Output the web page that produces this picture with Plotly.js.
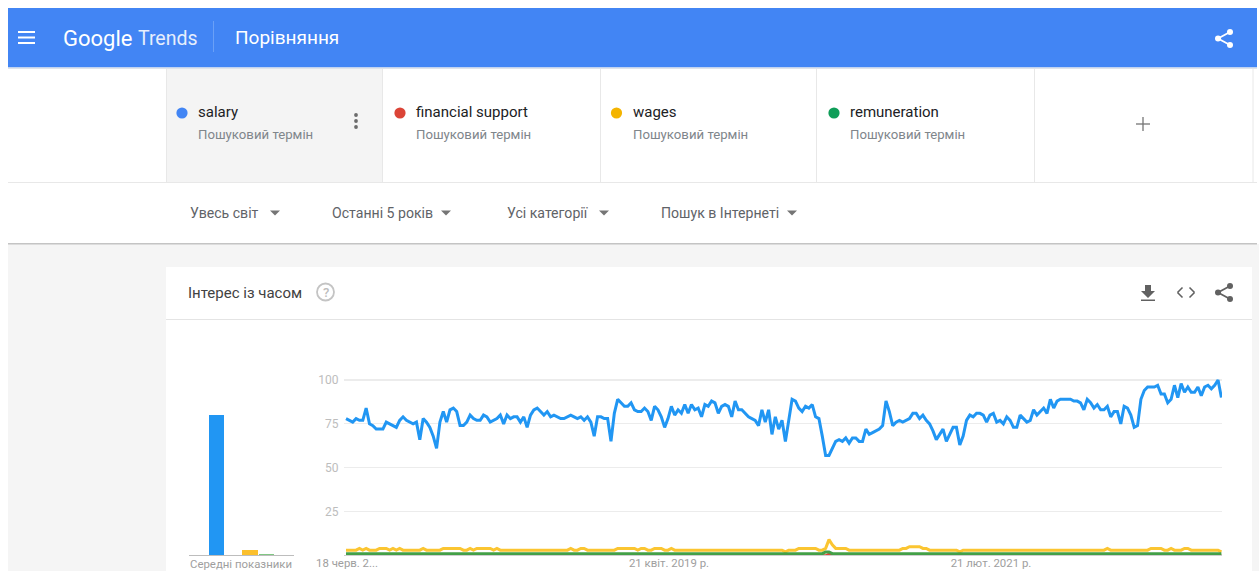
<!DOCTYPE html>
<html lang="uk">
<head>
<meta charset="utf-8">
<title>Google Trends</title>
<script src="https://cdn.plot.ly/plotly-3.0.1.min.js"></script>
<style>
  html, body { margin: 0; padding: 0; background: #fff; overflow: hidden; }
  #chart { width: 1259px; height: 571px; }
</style>
</head>
<body>
<div id="chart"></div>
<script>
// Weekly search interest, one value per week starting at firstWeek.
const firstWeek = '2017-06-18';

const salary = [
  78,77,76,78,77,77,84,75,74,72,
  72,72,76,75,74,73,77,79,77,76,
  75,76,66,78,76,73,68,61,76,82,
  76,83,84,82,74,74,76,80,78,77,
  77,80,79,76,77,78,80,75,80,78,
  79,79,76,79,73,80,83,84,82,80,
  82,79,80,79,78,78,79,80,79,78,
  79,77,79,76,68,79,79,78,78,65,
  81,89,87,85,85,87,83,82,82,84,
  82,77,85,83,79,73,78,85,80,83,
  81,86,81,86,83,84,79,86,85,88,
  87,81,85,86,85,79,88,83,83,81,
  79,78,77,74,83,76,83,69,79,72,
  77,65,77,89,88,84,82,85,84,86,
  79,78,68,57,57,61,65,66,65,67,
  64,67,67,65,65,72,69,70,71,72,
  74,88,82,74,76,77,76,77,78,81,
  81,78,80,77,75,71,66,69,72,65,
  69,73,73,63,68,77,80,79,81,81,
  80,76,80,81,76,77,75,79,77,73,
  73,80,78,76,77,83,80,82,84,81,
  89,84,88,89,89,89,89,88,88,87,
  83,89,87,84,86,83,83,85,79,82,
  82,75,85,84,80,73,74,89,94,96,
  96,96,97,92,92,87,89,97,90,98,
  93,96,93,93,96,91,96,97,95,97,
  100,90
];

const wages = [
  3,3,3,3,4,3,4,3,3,3,
  4,4,4,3,4,3,4,3,3,3,
  3,3,3,4,3,3,3,3,3,4,
  4,4,4,4,4,3,3,4,3,4,
  4,4,4,4,3,4,3,3,3,3,
  3,3,3,3,3,3,3,3,3,3,
  3,3,3,3,3,3,3,4,3,3,
  4,4,3,3,3,3,3,3,3,3,
  3,4,4,4,4,4,4,3,4,4,
  3,3,4,4,4,3,3,4,3,3,
  3,3,3,3,3,3,3,3,3,3,
  3,3,3,3,3,3,3,3,3,3,
  3,3,3,3,3,3,3,3,3,3,
  3,2,3,3,3,4,4,4,4,4,
  4,3,3,4,9,6,4,4,4,4,
  3,3,3,3,3,3,3,3,3,3,
  3,3,3,3,3,3,4,4,5,5,
  5,5,4,4,3,3,3,3,3,3,
  3,3,3,2,3,3,3,3,3,3,
  3,3,3,3,3,3,3,3,3,3,
  3,3,3,3,3,3,3,3,3,3,
  3,3,3,3,3,3,3,3,3,3,
  3,3,3,3,3,3,3,4,3,3,
  3,3,3,3,3,3,3,3,3,3,
  4,4,4,4,3,3,4,3,3,3,
  4,4,3,3,3,3,3,3,3,3,
  3,2
];

const remuneration = [
  1,1,1,1,1,1,1,1,1,1, 1,1,1,1,1,1,1,1,1,1,
  1,1,1,1,1,1,1,1,1,1, 1,1,1,1,1,1,1,1,1,1,
  1,1,1,1,1,1,1,1,1,1, 1,1,1,1,1,1,1,1,1,1,
  1,1,1,1,1,1,1,1,1,1, 1,1,1,1,1,1,1,1,1,1,
  1,1,1,1,1,1,1,1,1,1, 1,1,1,1,1,1,1,1,1,1,
  1,1,1,1,1,1,1,1,1,1, 1,1,1,1,1,1,1,1,1,1,
  1,1,1,1,1,1,1,1,1,1, 1,1,1,1,1,1,1,1,1,1,
  1,1,1,2,2,1,1,1,1,1, 1,1,1,1,1,1,1,1,1,1,
  1,1,1,1,1,1,1,1,1,1, 1,1,1,1,1,1,1,1,1,1,
  1,1,1,1,1,1,1,1,1,1, 1,1,1,1,1,1,1,1,1,1,
  1,1,1,1,1,1,1,1,1,1, 1,1,1,1,1,1,1,1,1,1,
  1,1,1,1,1,1,1,1,1,1, 1,1,1,1,1,1,1,1,1,1,
  1,1,1,1,1,1,1,1,1,1, 1,1,1,1,1,1,1,1,1,1,
  1,1
];

const financialSupport = [
  0,0,0,0,0,0,0,0,0,0, 0,0,0,0,0,0,0,0,0,0,
  0,0,0,0,0,0,0,0,0,0, 0,0,0,0,0,0,0,0,0,0,
  0,0,0,0,0,0,0,0,0,0, 0,0,0,0,0,0,0,0,0,0,
  0,0,0,0,0,0,0,0,0,0, 0,0,0,0,0,0,0,0,0,0,
  0,0,0,0,0,0,0,0,0,0, 0,0,0,0,0,0,0,0,0,0,
  0,0,0,0,0,0,0,0,0,0, 0,0,0,0,0,0,0,0,0,0,
  0,0,0,0,0,0,0,0,0,0, 0,0,0,0,0,0,0,0,0,0,
  0,0,0,0,1,0,0,0,0,0, 0,0,0,0,0,0,0,0,0,0,
  0,0,0,0,0,0,0,0,0,0, 0,0,0,0,0,0,0,0,0,0,
  0,0,0,0,0,0,0,0,0,0, 0,0,0,0,0,0,0,0,0,0,
  0,0,0,0,0,0,0,0,0,0, 0,0,0,0,0,0,0,0,0,0,
  0,0,0,0,0,0,0,0,0,0, 0,0,0,0,0,0,0,0,0,0,
  0,0,0,0,0,0,0,0,0,0, 0,0,0,0,0,0,0,0,0,0,
  0,0
];

// Averages shown in the small bar panel.
const termNames = ['salary', 'financial support', 'wages', 'remuneration'];
const averages = [80, 0, 3, 1];
const barColors = ['#2196f3', '#db4437', '#fbc02d', '#81c784'];

const yTicks = [25, 50, 75, 100];
const xTickDates = ['2017-06-18', '2019-04-21', '2021-02-21'];
const xTickLabels = ['18 черв. 2...', '21 квіт. 2019 р.', '21 лют. 2021 р.'];

const W = 1259, H = 571;
const FONT = 'Roboto, sans-serif';
const px = x => x / W;
const py = y => 1 - y / H;

// Week-ending dates for the x axis.
const weekDates = salary.map((_, i) => {
  const d = new Date(firstWeek + 'T00:00:00Z');
  d.setUTCDate(d.getUTCDate() + i * 7);
  return d.toISOString().slice(0, 10);
});

const lineTrace = (name, y, color, width) => ({
  type: 'scatter', mode: 'lines', name, x: weekDates, y,
  line: { color, width, shape: 'linear' }, cliponaxis: false,
  hoverinfo: 'skip', xaxis: 'x', yaxis: 'y', showlegend: false
});

const traces = [
  lineTrace('salary', salary, '#2196f3', 3),
  lineTrace('financial support', financialSupport, '#db4437', 2.2),
  lineTrace('wages', wages, '#fbc531', 3),
  lineTrace('remuneration', remuneration, '#43a047', 3),
  {
    type: 'bar', x: [0, 1, 2, 3], y: averages, name: 'average',
    text: termNames, textposition: 'none',
    marker: { color: barColors, line: { width: 0 } }, width: 0.92,
    hoverinfo: 'skip', xaxis: 'x2', yaxis: 'y2', showlegend: false
  }
];

// Page furniture: helpers work in page pixels.
const shapes = [];
const rect = (x0, y0, x1, y1, fill) => shapes.push({
  type: 'rect', xref: 'paper', yref: 'paper', layer: 'below',
  x0: px(x0), x1: px(x1), y0: py(y0), y1: py(y1),
  fillcolor: fill, line: { width: 0 }
});
const seg = (x0, y0, x1, y1, color, width, layer) => shapes.push({
  type: 'line', xref: 'paper', yref: 'paper', layer: layer || 'below',
  x0: px(x0), x1: px(x1), y0: py(y0), y1: py(y1),
  line: { color, width }
});
const dot = (cx, cy, r, fill) => shapes.push({
  type: 'circle', xref: 'paper', yref: 'paper', layer: 'below',
  x0: px(cx - r), x1: px(cx + r), y0: py(cy - r), y1: py(cy + r),
  fillcolor: fill, line: { width: 0 }
});
const ring = (cx, cy, r, color, width) => shapes.push({
  type: 'circle', xref: 'paper', yref: 'paper', layer: 'below',
  x0: px(cx - r), x1: px(cx + r), y0: py(cy - r), y1: py(cy + r),
  fillcolor: 'rgba(0,0,0,0)', line: { color, width }
});
const poly = (pts, fill) => shapes.push({
  type: 'path', xref: 'paper', yref: 'paper', layer: 'below',
  path: 'M' + pts.map(p => px(p[0]) + ',' + py(p[1])).join('L') + 'Z',
  fillcolor: fill, line: { width: 0 }
});
const shareIcon = (cx, cy, color) => {
  seg(cx + 6, cy - 6.5, cx - 6, cy, color, 1.8);
  seg(cx - 6, cy, cx + 6, cy + 6.5, color, 1.8);
  dot(cx + 6, cy - 6.5, 3, color);
  dot(cx - 6, cy, 3, color);
  dot(cx + 6, cy + 6.5, 3, color);
};

const notes = [];
const label = (x, y, text, size, color, opts) => notes.push(Object.assign({
  xref: 'paper', yref: 'paper', x: px(x), y: py(y), text,
  showarrow: false, xanchor: 'left', yanchor: 'middle',
  borderpad: 0, font: { family: FONT, size, color }
}, opts || {}));

// Base panels
rect(8, 244, 1259, 571, '#f5f5f5');
rect(8, 243, 1257, 244.5, '#c4c4c4');
rect(166, 267, 1252, 571, '#ffffff');
seg(166, 319.5, 1252, 319.5, '#e4e4e4', 1);

// Header bar
rect(8, 8, 1257, 67.5, '#4285f4');
rect(8, 67.5, 1257, 69, '#dfe3ea');
[32, 37.5, 43].forEach(y => rect(18, y - 1, 35, y + 1, '#ffffff'));
seg(213.5, 21, 213.5, 52, '#6aa0f7', 1);
label(62, 38.5, 'Google', 22, '#ffffff');
label(136.5, 38.5, 'Trends', 19.5, '#e6eefc');
label(234, 37, 'Порівняння', 19, '#ffffff');
shareIcon(1224, 38.5, '#ffffff');

// Search term row
rect(166, 69, 382, 182, '#f4f4f4');
[166, 382, 600, 816, 1034, 1252.5].forEach(x => seg(x + 0.5, 69, x + 0.5, 182, '#e8e8e8', 1));
seg(8, 182.5, 1257, 182.5, '#e8e8e8', 1);
const cellX = [197, 415, 631.5, 849];
const dotColors = ['#4285f4', '#db4437', '#f4b400', '#0f9d58'];
termNames.forEach((name, i) => {
  dot(cellX[i] - 15, 113, 5.6, dotColors[i]);
  label(cellX[i], 112.5, name, 15, '#202124');
  label(cellX[i], 134, 'Пошуковий термін', 13.2, '#80868b');
});
[115, 121, 127].forEach(y => dot(356, y, 1.9, '#6b6b6b'));
seg(1143, 117, 1143, 131, '#757575', 1.3);
seg(1136, 124, 1150, 124, '#757575', 1.3);

// Filter row
[
  [189, 'Увесь світ', 275],
  [331, 'Останні 5 років', 446],
  [506, 'Усі категорії', 604],
  [660, 'Пошук в Інтернеті', 792]
].forEach(f => {
  label(f[0], 213, f[1], 14.1, '#5f6368');
  poly([[f[2] - 5, 210.5], [f[2] + 5, 210.5], [f[2], 215.5]], '#757575');
});

// Card heading and its icons
label(187, 292.5, 'Інтерес із часом', 15, '#424242');
ring(325.5, 292, 8.5, '#c4c4c4', 1.8);
label(325.5, 292.5, '?', 13, '#bdbdbd', { xanchor: 'center', font: { family: FONT, size: 13, color: '#bdbdbd', weight: 500 } });
poly([[1145, 285], [1151, 285], [1151, 291], [1155, 291], [1148, 298], [1141, 291], [1145, 291]], '#616161');
rect(1141, 299.5, 1155, 301, '#616161');
seg(1177.5, 292.5, 1182.5, 287.5, '#616161', 1.6); seg(1177.5, 292.5, 1182.5, 297.5, '#616161', 1.6);
seg(1194.5, 292.5, 1189.5, 287.5, '#616161', 1.6); seg(1194.5, 292.5, 1189.5, 297.5, '#616161', 1.6);
shareIcon(1224, 292.5, '#616161');

// Caption under the bar panel
label(241, 564, 'Середні показники', 11.4, '#9e9e9e', { xanchor: 'center' });

// Shared vertical scale: 0 sits on the baseline, 100 on the top gridline.
const yBottom = py(555.4);
const yTop = py(555.4 - 1.754 * 110);

const layout = {
  width: W, height: H, autosize: false,
  margin: { l: 0, r: 0, t: 0, b: 0, pad: 0 },
  paper_bgcolor: '#ffffff', plot_bgcolor: 'rgba(0,0,0,0)',
  font: { family: FONT, color: '#9e9e9e', size: 12 },
  showlegend: false, hovermode: false, dragmode: false, bargap: 0,
  xaxis: {
    domain: [px(344), px(1222)], type: 'date', anchor: 'y',
    range: ['2017-06-13 19:00', '2022-06-20 06:00'],
    tickmode: 'array', tickvals: xTickDates, ticktext: xTickLabels,
    ticks: '', ticklabelstandoff: -3, ticklabelshift: 1,
    tickfont: { family: FONT, size: 11.4, color: '#9e9e9e' },
    showgrid: false, zeroline: false, showline: true, linecolor: '#cfcfcf', linewidth: 1,
    fixedrange: true
  },
  yaxis: {
    domain: [yBottom, yTop], range: [0, 110], anchor: 'x',
    tickmode: 'array', tickvals: yTicks,
    ticks: 'outside', ticklen: 2, tickcolor: 'rgba(0,0,0,0)',
    tickfont: { family: FONT, size: 12, color: '#bdbdbd' },
    showgrid: true, gridcolor: '#ececec', gridwidth: 1.2,
    zeroline: false, showline: false, fixedrange: true
  },
  xaxis2: {
    domain: [px(188.5), px(293.5)], range: [-1.71, 4.63], anchor: 'y2',
    showticklabels: false, ticks: '', showgrid: false, zeroline: false,
    showline: true, linecolor: '#bdbdbd', linewidth: 1, fixedrange: true
  },
  yaxis2: {
    domain: [yBottom, yTop], range: [0, 110], anchor: 'x2',
    showticklabels: false, ticks: '', showgrid: false, zeroline: false,
    showline: false, fixedrange: true
  },
  shapes, annotations: notes
};

Plotly.newPlot('chart', traces, layout, { displayModeBar: false, staticPlot: true, responsive: false });
</script>
</body>
</html>
